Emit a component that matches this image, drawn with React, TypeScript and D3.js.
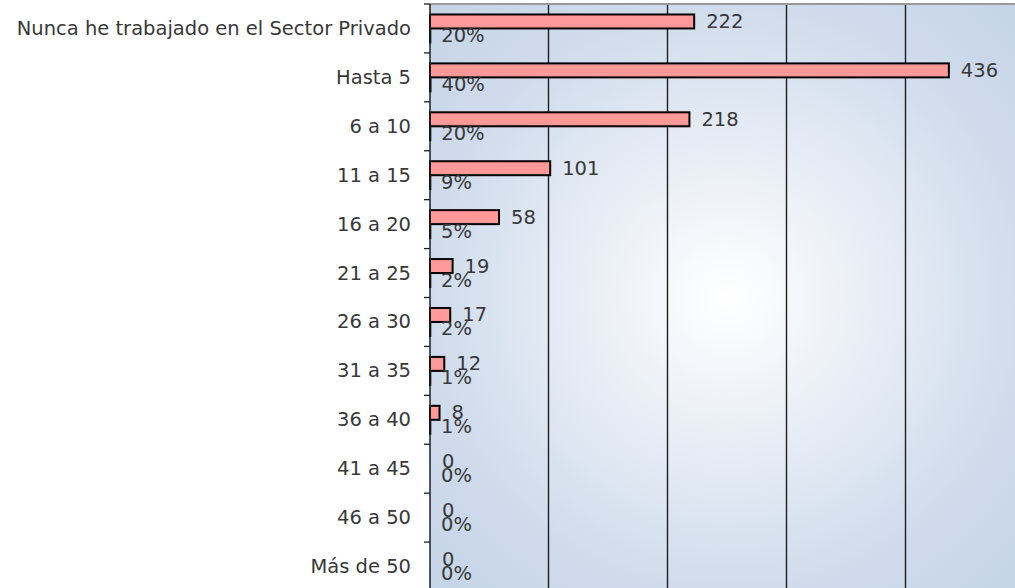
import React from "react";
import * as d3 from "d3";

const categories: string[] = [
  "Nunca he trabajado en el Sector Privado",
  "Hasta 5",
  "6 a 10",
  "11 a 15",
  "16 a 20",
  "21 a 25",
  "26 a 30",
  "31 a 35",
  "36 a 40",
  "41 a 45",
  "46 a 50",
  "Más de 50",
];
const counts: number[] = [222, 436, 218, 101, 58, 19, 17, 12, 8, 0, 0, 0];
const shares: number[] = [0.2, 0.4, 0.2, 0.09, 0.05, 0.02, 0.02, 0.01, 0.01, 0, 0, 0];
const gridTicks: number[] = [100, 200, 300, 400];

const W = 1015;
const H = 588;
const X0 = 430;
const X1 = 1025;
const Y0 = 4;
const Y1 = 591;
const FONT = "'DejaVu Sans', sans-serif";
const FS = 19.5;
const TXT = "#383838";

export default function App() {
  const x = d3.scaleLinear().domain([0, 500]).range([X0, X1]);
  const y = d3.scaleBand<string>().domain(categories).range([Y0, Y1]).padding(0);
  const bw = y.bandwidth();
  const sub = d3
    .scaleBand<string>()
    .domain(["count", "pct"])
    .range([0, bw])
    .paddingInner(0)
    .paddingOuter(0.75);
  const sb = sub.bandwidth();
  const fmt = d3.format(".0%");
  const boundaries = categories.map((c) => y(c) as number).concat([Y1]);

  return (
    <svg
      width={W}
      height={H}
      style={{ position: "absolute", left: 0, top: 0, display: "block" }}
      fontFamily={FONT}
    >
      <defs>
        <radialGradient id="bg" cx="0.5" cy="0.5" r="0.72">
          <stop offset="0" stopColor="#ffffff" />
          <stop offset="0.69" stopColor="#d0dcec" />
          <stop offset="1" stopColor="#c4d3e7" />
        </radialGradient>
      </defs>
      <rect x={0} y={0} width={W} height={H} fill="#ffffff" />
      <rect x={X0} y={Y0} width={X1 - X0} height={Y1 - Y0} fill="url(#bg)" />
      {gridTicks.map((t) => (
        <line
          key={t}
          x1={x(t) - 0.5}
          x2={x(t) - 0.5}
          y1={Y0}
          y2={Y1}
          stroke="#1e1e1e"
          strokeWidth={1.4}
        />
      ))}
      <line x1={X0} x2={X1} y1={Y0} y2={Y0} stroke="#999999" strokeWidth={2} />
      {categories.map((c, i) => {
        const by = y(c) as number;
        const cy = by + (sub("count") as number);
        const py = by + (sub("pct") as number);
        return (
          <g key={c}>
            {counts[i] > 0 && (
              <rect
                x={x(0)}
                y={cy}
                width={x(counts[i]) - x(0)}
                height={sb}
                fill="#ff9999"
                stroke="#000000"
                strokeWidth={2}
              />
            )}
            {shares[i] > 0 && (
              <rect
                x={x(0)}
                y={py}
                width={Math.max(0.3, x(shares[i]) - x(0))}
                height={sb}
                fill="#ff9999"
                stroke="#000000"
                strokeWidth={2}
              />
            )}
            <text
              x={x(counts[i]) + 12}
              y={cy + sb / 2}
              dominantBaseline="central"
              fontSize={FS}
              fill={TXT}
            >
              {counts[i]}
            </text>
            <text
              x={x(shares[i]) + 11}
              y={py + sb / 2}
              dominantBaseline="central"
              fontSize={FS}
              fill={TXT}
            >
              {fmt(shares[i])}
            </text>
            <text
              x={411}
              y={by + bw / 2}
              dominantBaseline="central"
              textAnchor="end"
              fontSize={FS}
              fill={TXT}
            >
              {c}
            </text>
          </g>
        );
      })}
      <line x1={X0} x2={X0} y1={Y0} y2={Y1} stroke="#1e1e1e" strokeWidth={1.5} />
      {boundaries.map((b, i) => (
        <line key={i} x1={X0 - 6} x2={X0} y1={b} y2={b} stroke="#1e1e1e" strokeWidth={1.3} />
      ))}
    </svg>
  );
}
